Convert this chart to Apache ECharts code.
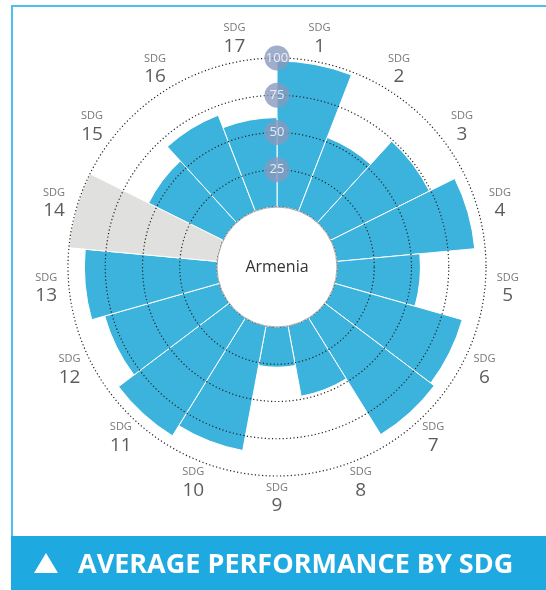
<!DOCTYPE html>
<html>
<head>
<meta charset="utf-8">
<script src="https://cdn.jsdelivr.net/npm/echarts@6/dist/echarts.min.js"></script>
<style>
html,body{margin:0;padding:0;background:#fff;}
#chart{width:546px;height:590px;}
</style>
</head>
<body>
<div id="chart"></div>
<script>
// ---- data ----
var categories = ['1','2','3','4','5','6','7','8','9','10','11','12','13','14','15','16','17'];
var scores = [98, 53, 74, 93, 56, 89, 92, 48, 27, 85, 93, 80, 89, 100, 56, 69, 60];
var missingGoals = ['14'];
var scaleTicks = [25, 50, 75, 100];
var countryName = 'Armenia';
var bannerTitle = 'AVERAGE PERFORMANCE BY SDG';

// ---- layout ----
var CX = 277, CY = 267, R0 = 60, R1 = 209, RL = 232;
var BLUE = '#3cb3dc', GREY = '#e0e0de';

var chart = echarts.init(document.getElementById('chart'), null, {renderer: 'canvas'});

var barData = scores.map(function (v, i) {
  var miss = missingGoals.indexOf(categories[i]) >= 0;
  return {value: v, itemStyle: {color: miss ? GREY : BLUE}};
});
var labelData = categories.map(function (c) { return [99.9, c]; });
var tickData = scaleTicks.map(function (t) { return [t, 0]; });

var option = {
  animation: false,
  polar: [
    {center: [CX, CY], radius: [R0, R1]},
    {center: [CX, CY], radius: [0, RL]},
    {center: [CX, CY], radius: [R0, R1]}
  ],
  angleAxis: [
    {polarIndex: 0, type: 'category', data: categories, startAngle: 90, clockwise: true,
     boundaryGap: true, axisLine: {show: false}, axisTick: {show: false}, axisLabel: {show: false}, splitLine: {show: false}},
    {polarIndex: 1, type: 'category', data: categories, startAngle: 90, clockwise: true,
     boundaryGap: true, show: false},
    {polarIndex: 2, type: 'value', min: 0, max: 360, startAngle: 90, clockwise: true, show: false}
  ],
  radiusAxis: [
    {polarIndex: 0, type: 'value', min: 0, max: 100, show: false},
    {polarIndex: 1, type: 'value', min: 0, max: 100, show: false},
    {polarIndex: 2, type: 'value', min: 0, max: 100, interval: 25, z: 3,
     axisLine: {show: false}, axisTick: {show: false}, axisLabel: {show: false},
     splitLine: {show: true, lineStyle: {color: '#222', width: 1.2, type: [1.2, 2.4]}}}
  ],
  series: [
    {type: 'bar', coordinateSystem: 'polar', polarIndex: 0, data: barData,
     barCategoryGap: '0%', z: 2,
     itemStyle: {borderColor: '#fff', borderWidth: 1}},
    {type: 'scatter', coordinateSystem: 'polar', polarIndex: 1, data: labelData,
     symbolSize: 0, clip: false, silent: true,
     label: {show: true, position: 'inside',
       formatter: function (p) { return '{s|SDG}\n{n|' + p.value[1] + '}'; },
       rich: {
         s: {fontFamily: 'Open Sans', fontSize: 11, color: '#555', lineHeight: 14, align: 'center'},
         n: {fontFamily: 'Open Sans', fontSize: 19, color: '#333', lineHeight: 22, align: 'center'}
       }}},
    {type: 'scatter', coordinateSystem: 'polar', polarIndex: 2, data: tickData,
     symbol: 'circle', symbolSize: 25, clip: false, z: 6, silent: true,
     itemStyle: {color: '#8898be'},
     label: {show: true, position: 'inside', formatter: function (p) { return p.value[0]; },
       fontFamily: 'Open Sans', fontSize: 13, color: '#fff'}}
  ],
  graphic: [
    {type: 'circle', shape: {cx: CX, cy: CY, r: R0}, z: 100,
     style: {fill: '#fff', stroke: '#a8a8a8', lineWidth: 1}},
    {type: 'text', x: CX, y: CY, z: 101,
     style: {text: countryName, fontFamily: 'Open Sans', fontSize: 16, fill: '#333',
       align: 'center', verticalAlign: 'middle'}},
    {type: 'line', shape: {x1: 11, y1: 6, x2: 546, y2: 6}, z: 50,
     style: {stroke: '#4fc0ea', lineWidth: 2}},
    {type: 'line', shape: {x1: 12, y1: 5, x2: 12, y2: 537}, z: 50,
     style: {stroke: '#4fc0ea', lineWidth: 2}},
    {type: 'rect', shape: {x: 11, y: 536, width: 535, height: 54}, z: 50,
     style: {fill: '#1fa9e1'}},
    {type: 'polygon', shape: {points: [[34, 573], [58, 573], [46, 553]]}, z: 51,
     style: {fill: '#fff'}},
    {type: 'text', x: 78, y: 565, z: 51,
     style: {text: bannerTitle, fontFamily: 'Open Sans', fontWeight: 'bold', fontSize: 27, fill: '#fff',
       align: 'left', verticalAlign: 'middle'}}
  ]
};
chart.setOption(option);
</script>
</body>
</html>
